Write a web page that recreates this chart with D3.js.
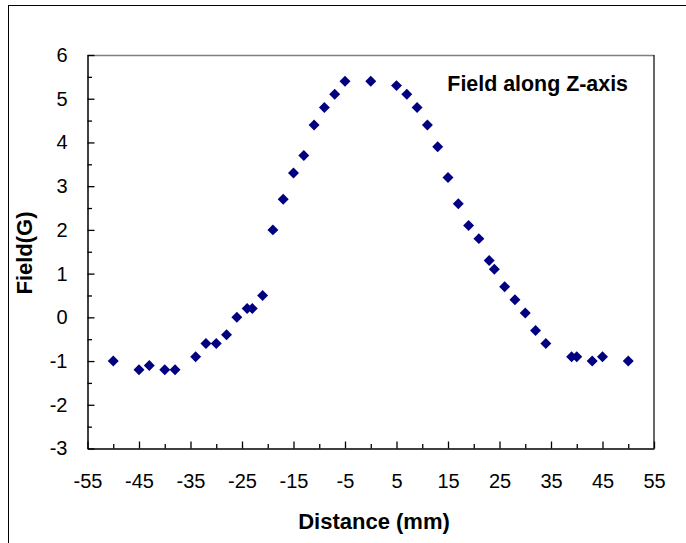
<!DOCTYPE html>
<html>
<head>
<meta charset="utf-8">
<script src="https://cdn.jsdelivr.net/npm/d3@7"></script>
<style>
  body { margin: 0; background: #fff; }
  svg { display: block; font-family: "Liberation Sans", Arial, sans-serif; }
</style>
</head>
<body>
<svg id="chart" width="686" height="543"></svg>
<script>
// measured field along the z-axis
var distance = [-50, -45, -43, -40, -38, -34, -32, -30, -28, -26, -24, -23, -21, -19, -17, -15, -13, -11, -9, -7, -5,
                0, 5, 7, 9, 11, 13, 15, 17, 19, 21, 23, 24, 26, 28, 30, 32, 34, 39, 40, 43, 45, 50];
var field = [-1.0, -1.2, -1.1, -1.2, -1.2, -0.9, -0.6, -0.6, -0.4, 0.0, 0.2, 0.2, 0.5, 2.0, 2.7, 3.3, 3.7, 4.4, 4.8, 5.1, 5.4,
             5.4, 5.3, 5.1, 4.8, 4.4, 3.9, 3.2, 2.6, 2.1, 1.8, 1.3, 1.1, 0.7, 0.4, 0.1, -0.3, -0.6, -0.9, -0.9, -1.0, -0.9, -1.0];

var xLabels = [-55, -45, -35, -25, -15, -5, 5, 15, 25, 35, 45, 55];
var xMinor = [-50, -40, -30, -20, -10, 0, 10, 20, 30, 40, 50];
var yLabels = [-3, -2, -1, 0, 1, 2, 3, 4, 5, 6];
var yMinor = [-2.5, -1.5, -0.5, 0.5, 1.5, 2.5, 3.5, 4.5, 5.5];

var svg = d3.select("svg#chart");

// plot area edges
var pLeft = 87.5, pRight = 654, pTop = 55, pBottom = 448.5;

var x = d3.scaleLinear().domain([-55, 55]).range([pLeft, pRight]);
var y = d3.scaleLinear().domain([-3, 6]).range([pBottom, pTop]);

var plain = function(d) { return String(d); };  // keep ascii hyphen like excel

// outer chart border (runs off the right/bottom edge)
svg.append("rect")
    .attr("x", 8.5).attr("y", 5.5)
    .attr("width", 700).attr("height", 560)
    .attr("fill", "none").attr("stroke", "#000");

// plot area border, top grey, right black
svg.append("line")
    .attr("x1", pLeft).attr("x2", pRight).attr("y1", pTop + 0.5).attr("y2", pTop + 0.5)
    .attr("stroke", "#808080").attr("stroke-width", 1.5);
svg.append("line")
    .attr("x1", pRight).attr("x2", pRight).attr("y1", pTop).attr("y2", pBottom)
    .attr("stroke", "#000").attr("stroke-width", 1.2);

// y axis
svg.append("g")
    .attr("transform", "translate(" + pLeft + ",0)")
    .call(d3.axisLeft(y).tickValues(yMinor).tickSize(-4.5).tickSizeOuter(0).tickFormat(""))
    .call(function(g) { g.select(".domain").remove(); });

svg.append("g")
    .attr("transform", "translate(" + pLeft + ",0)")
    .call(d3.axisLeft(y).tickValues(yLabels).tickSize(-7).tickSizeOuter(0).tickPadding(20).tickFormat(plain));

// x axis
svg.append("g")
    .attr("transform", "translate(0," + pBottom + ")")
    .call(d3.axisBottom(x).tickValues(xMinor).tickSize(-4.5).tickSizeOuter(0).tickFormat(""))
    .call(function(g) { g.select(".domain").remove(); });

svg.append("g")
    .attr("transform", "translate(0," + pBottom + ")")
    .call(d3.axisBottom(x).tickValues(xLabels).tickSize(-7).tickSizeOuter(0).tickPadding(25).tickFormat(plain));

svg.selectAll(".tick line").attr("stroke", "#000").attr("stroke-width", 1.3);
svg.selectAll(".domain").attr("stroke", "#000").attr("stroke-width", 1.5);
svg.selectAll(".tick text").attr("font-size", 20).attr("fill", "#000")
    .attr("font-family", "'Liberation Sans', Arial, sans-serif");

// points
var pts = distance.map(function(d, i) { return { x: d, y: field[i] }; });

svg.append("g")
    .selectAll("path")
    .data(pts)
    .enter().append("path")
    .attr("d", d3.symbol(d3.symbolSquare, 60))
    .attr("transform", function(d) { return "translate(" + x(d.x) + "," + y(d.y) + ") rotate(45)"; })
    .attr("fill", "#000080");

// labels
svg.append("text")
    .attr("x", 374).attr("y", 529)
    .attr("text-anchor", "middle")
    .attr("font-size", 22).attr("font-weight", "bold")
    .text("Distance (mm)");

svg.append("text")
    .attr("transform", "translate(32,253) rotate(-90)")
    .attr("text-anchor", "middle")
    .attr("font-size", 22).attr("font-weight", "bold")
    .text("Field(G)");

svg.append("text")
    .attr("x", 628).attr("y", 91)
    .attr("text-anchor", "end")
    .attr("font-size", 21.4).attr("font-weight", "bold")
    .text("Field along Z-axis");
</script>
</body>
</html>
